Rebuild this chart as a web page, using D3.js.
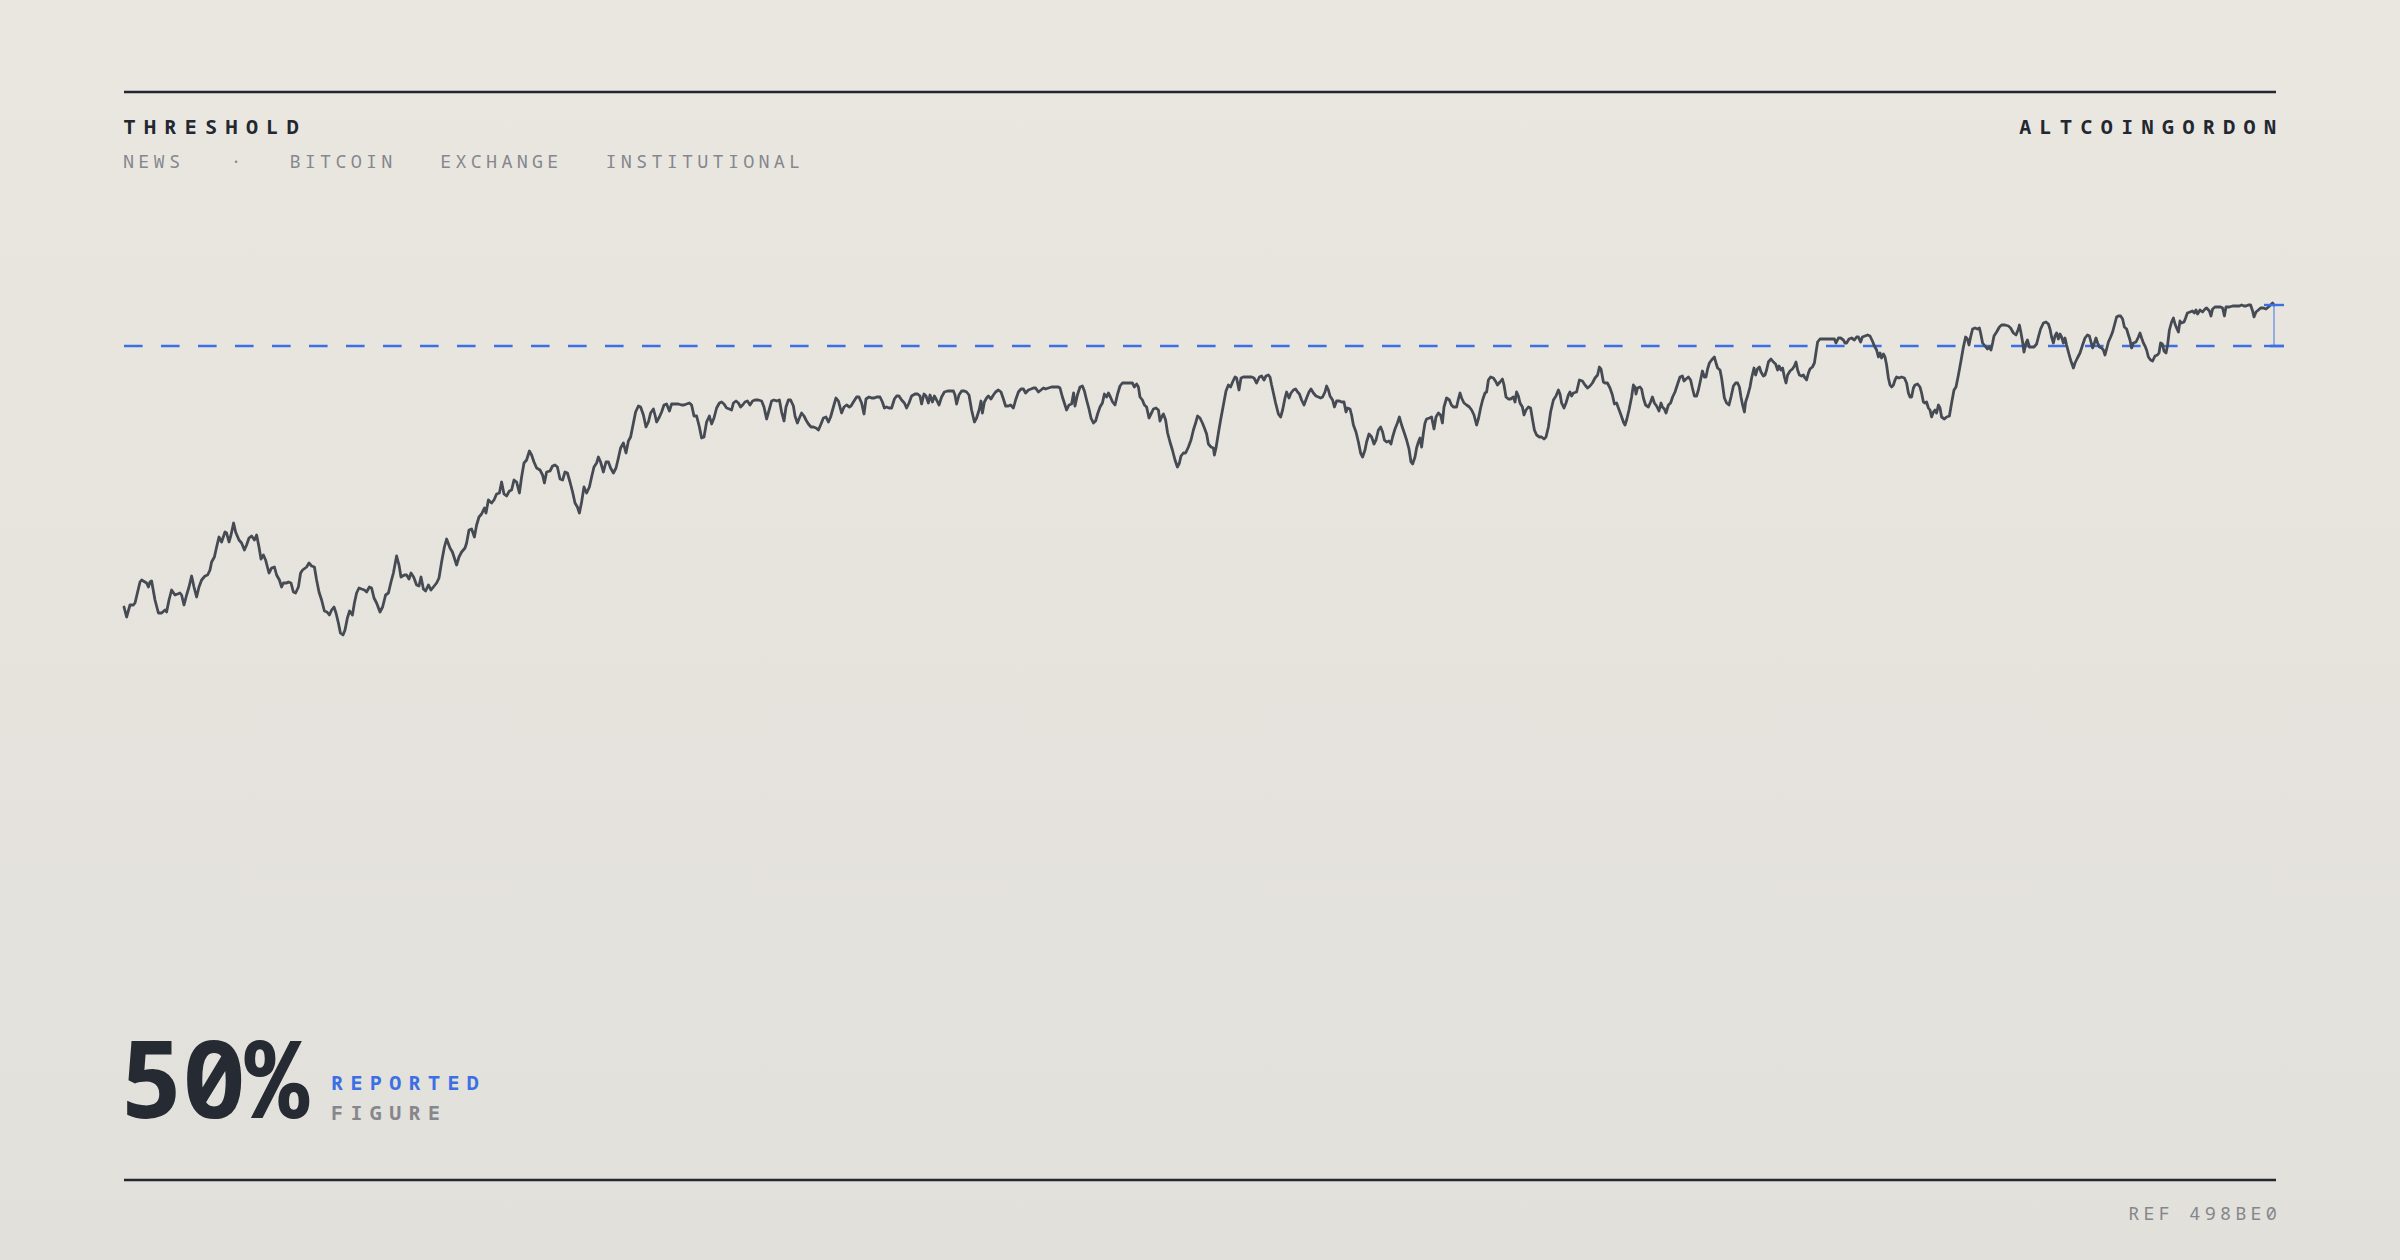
<!DOCTYPE html>
<html>
<head>
<meta charset="utf-8">
<script src="https://cdn.jsdelivr.net/npm/d3@7"></script>
<style>
  html, body { margin: 0; padding: 0; }
  body { width: 2400px; height: 1260px; overflow: hidden; }
  svg { display: block; }
  text { font-family: "Noto Sans Mono", "DejaVu Sans Mono", monospace; }
</style>
</head>
<body>
<svg id="chart" width="2400" height="1260"></svg>
<script>
// ---- DATA ----
const title = "THRESHOLD";
const brand = "ALTCOINGORDON";
const tags = ["NEWS", "·", "BITCOIN", "EXCHANGE", "INSTITUTIONAL"];
const reference = "REF 498BE0";
const headline = "50%";
const headlineLabels = ["REPORTED", "FIGURE"];
const thresholdValue = 50;

const days = [
  0,1.3,3.0,4.7,5.5,8.0,8.8,11.3,12.2,13.0,
  13.8,15.5,17.2,18.8,20.5,21.3,22.5,23.8,25.5,28.0,
  28.8,30.0,31.3,32.5,33.8,35.0,36.3,37.5,38.8,40.5,
  41.8,43.0,43.8,45.2,46.3,47.5,48.8,50.5,51.3,52.5,
  53.5,54.8,55.8,57.5,58.8,60.2,61.3,62.5,63.8,65.2,
  66.3,67.5,68.5,69.7,70.8,72.5,73.8,75.2,76.3,77.7,
  78.8,79.7,81.3,82.2,83.5,84.7,85.8,87.2,88.3,89.3,
  91.3,92.5,93.8,95.2,96.3,97.5,98.8,100.2,101.5,102.7,
  103.8,105.0,106.0,107.2,108.2,109.5,110.5,111.7,112.8,114.2,
  115.2,116.3,117.5,118.8,120.2,121.3,122.7,123.8,125.0,126.3,
  128.0,129.3,130.8,132.2,133.5,134.7,136.3,137.5,138.5,140.2,
  141.3,142.5,143.5,144.8,146.3,147.5,148.5,149.7,150.8,152.2,
  153.5,154.7,156.3,157.5,158.8,160.2,161.3,163.0,164.2,165.5,
  166.3,167.5,168.8,170.5,171.3,172.5,173.8,175.2,176.3,177.5,
  178.8,180.2,
  181.0,182.2,183.8,185.0,186.3,187.7,188.8,190.0,191.3,192.7,
  193.8,195.0,196.3,197.7,198.8,200.0,201.3,202.7,203.8,205.0,
  206.3,208.0,209.3,210.2,211.3,213.0,214.3,215.5,216.7,218.0,
  219.3,220.5,221.7,223.0,224.3,225.5,226.7,227.7,228.8,230.0,
  231.3,232.7,233.8,235.0,236.3,237.2,238.3,239.7,241.0,242.2,
  243.3,244.7,246.0,247.2,248.3,249.7,251.0,252.2,253.3,254.7,
  255.8,257.2,258.3,259.7,261.0,262.2,263.3,264.7,265.5,266.3,
  267.7,268.8,270.0,271.3,272.7,273.8,275.5,277.2,278.8,280.0,
  281.3,282.7,283.8,285.0,286.3,287.7,288.8,290.0,291.3,292.7,
  293.8,295.0,296.3,297.7,298.8,300.0,301.3,302.7,303.8,304.7,
  306.0,307.2,308.3,309.3,310.5,311.7,313.0,314.3,315.5,317.2,
  318.8,320.0,321.3,322.7,323.8,325.0,326.3,327.7,328.8,330.0,
  331.0,332.2,333.3,334.7,335.5,336.7,337.7,338.8,340.0,341.0,
  342.2,343.5,344.7,346.0,347.2,348.3,349.7,351.0,352.2,353.3,
  354.7,356.0,357.2,358.0,358.8,360.0,361.3,362.7,
  363.5,364.7,366.3,367.5,368.8,370.0,371.0,372.5,373.8,375.2,
  376.3,378.0,379.2,380.2,381.3,382.5,383.8,385.2,386.3,387.5,
  388.8,390.2,391.3,392.5,393.8,395.5,396.8,398.0,398.8,400.0,
  401.0,402.2,403.0,404.2,405.2,406.3,407.5,408.8,410.2,411.8,
  413.5,414.7,415.5,416.3,417.5,418.8,420.2,421.3,422.5,423.8,
  425.2,426.3,427.7,428.5,429.2,430.2,431.3,432.2,433.5,434.7,
  435.8,437.2,438.5,439.7,440.8,442.2,443.3,444.7,445.8,447.2,
  448.5,449.7,450.8,452.2,453.5,454.7,455.8,457.2,458.5,459.7,
  460.8,462.2,463.8,465.8,467.2,468.0,469.2,470.5,471.3,472.5,
  473.8,474.8,475.5,476.7,478.0,479.2,480.2,481.3,482.5,483.5,
  484.7,485.8,486.8,488.0,489.2,490.2,491.3,492.2,493.2,494.3,
  495.5,496.8,498.0,499.2,500.5,501.8,503.0,504.2,505.2,506.3,
  507.2,508.0,509.2,510.2,511.3,512.5,513.5,514.7,516.0,517.2,
  518.0,518.8,519.7,520.8,521.8,523.0,524.2,525.5,526.7,527.7,
  528.5,529.7,530.8,532.2,533.5,534.7,535.8,536.8,538.0,539.2,
  540.2,541.3,542.2,543.5,544.7,545.2,
  546.0,547.2,548.3,549.7,551.0,552.2,553.3,554.3,555.5,556.3,
  557.5,558.5,559.7,561.0,562.7,563.8,565.0,566.3,567.7,568.8,
  570.0,571.0,572.2,573.0,573.8,574.7,575.8,577.2,578.3,579.3,
  580.5,581.3,582.5,583.5,584.7,585.8,586.8,587.7,588.8,590.0,
  591.3,592.5,593.5,594.7,596.0,597.2,598.3,599.3,600.5,601.3,
  602.2,603.0,604.3,605.2,606.3,607.7,608.8,610.0,611.0,611.7,
  613.0,613.8,614.7,616.0,617.2,618.3,619.3,620.5,621.3,622.5,
  623.8,625.0,626.0,627.2,628.3,629.3,630.2,631.3,632.5,633.5,
  634.3,635.5,636.7,637.7,638.8,640.0,641.3,642.5,643.5,644.3,
  645.5,646.3,647.2,648.0,648.8,649.7,650.5,651.3,652.7,653.8,
  655.0,656.0,657.2,658.3,659.2,660.0,661.3,662.7,663.7,664.7,
  666.3,667.2,668.0,668.8,670.0,671.3,672.7,673.8,675.0,676.3,
  677.3,678.3,679.3,680.5,681.3,682.2,683.3,684.7,686.0,686.7,
  688.0,689.2,690.0,691.0,692.2,693.3,694.7,695.5,696.3,697.2,
  698.0,699.2,700.0,701.0,702.2,703.3,704.3,705.2,706.3,707.7,
  708.8,710.0,711.0,712.2,713.3,714.7,716.0,717.2,718.0,718.8,
  720.0,721.0,722.2,723.0,723.8,724.7,726.3,727.7,
  729.2,730.5,731.8,733.0,734.2,735.5,736.8,737.7,738.5,739.7,
  740.5,741.7,743.0,744.2,745.2,746.3,747.2,748.5,749.7,750.5,
  751.3,752.5,753.8,754.7,755.5,756.0,756.8,758.0,758.8,759.7,
  760.8,762.2,763.3,764.2,765.2,766.3,767.5,768.5,769.2,770.2,
  771.0,772.2,773.3,774.3,775.5,776.8,778.0,779.2,780.0,781.0,
  782.2,783.3,784.2,785.2,786.3,787.2,788.5,789.2,790.2,791.0,
  791.8,792.7,793.8,795.2,796.0,796.8,798.0,798.8,800.2,801.3,
  802.5,803.5,804.7,805.8,806.8,807.7,808.5,809.3,810.2,810.8,
  811.8,813.0,813.8,815.0,815.8,816.7,817.7,818.5,819.7,820.5,
  821.3,822.2,823.5,824.7,825.8,826.8,827.5,828.5,829.3,830.2,
  831.0,831.8,833.0,834.2,835.2,836.0,836.8,837.7,838.8,839.7,
  840.5,841.3,842.2,843.0,844.2,845.2,845.8,846.8,848.0,849.2,
  850.5,851.8,853.0,854.2,855.2,856.0,857.2,858.3,859.7,860.5,
  861.3,862.5,863.8,865.2,866.3,867.2,868.3,869.2,870.5,871.8,
  873.0,874.2,875.2,876.3,877.2,878.0,878.8,879.7,880.5,881.3,
  882.2,883.0,883.8,884.7,885.5,886.3,887.5,888.8,890.2,891.3,
  892.2,893.0,893.8,894.7,895.5,896.8,898.0,898.8,899.7,900.5,
  901.3,902.2,903.0,903.8,904.7,905.5,906.3,907.2,908.0,908.8,
  910.2,
  911.3,912.7,913.8,915.0,916.0,917.2,918.3,919.7,920.8,921.7,
  922.5,923.3,924.3,925.5,926.7,927.7,928.3,929.3,930.5,931.7,
  932.7,933.5,934.3,935.0,936.3,937.7,938.8,940.5,942.2,943.3,
  944.7,946.0,947.2,947.7,948.5,949.3,950.0,951.0,951.7,952.7,
  953.8,955.0,956.3,957.2,958.3,959.7,961.0,962.2,963.0,963.8,
  964.7,965.5,966.3,967.2,968.0,968.8,969.7,970.5,971.3,972.2,
  973.3,974.7,975.5,976.7,978.0,979.3,980.5,981.7,982.7,983.5,
  984.3,985.2,986.0,986.8,987.7,988.8,989.7,990.5,991.3,992.2,
  993.3,994.3,995.5,996.3,997.2,998.3,999.3,1000.2,1001.3,1002.2,
  1003.0,1003.8,1004.7,1006.0,1007.2,1008.0,1008.8,1009.7,1010.5,1011.3,
  1012.2,1013.3,1014.3,1015.5,1016.7,1017.5,1018.3,1019.2,1020.0,1021.0,
  1021.8,1022.7,1023.8,1024.7,1025.5,1026.3,1027.2,1028.0,1028.8,1030.0,
  1030.8,1031.7,1033.0,1034.2,1035.2,1036.0,1036.8,1038.0,1039.3,1040.5,
  1041.3,1042.7,1043.5,1044.3,1045.5,1047.2,1048.3,1049.3,1050.2,1051.0,
  1052.7,1054.3,1056.0,1057.7,1058.8,1060.0,1061.0,1062.2,1063.3,1064.3,
  1065.0,1066.0,1067.2,1068.3,1069.7,1071.0,1072.2,1073.3,1074.3,1075.0
];

const values = [
  23.9,22.9,24.1,24.1,24.3,26.4,26.6,26.3,25.9,26.4,
  26.5,24.6,23.3,23.3,23.6,23.4,24.6,25.6,25.1,25.3,
  25.1,24.1,25.1,25.9,27.0,25.9,24.9,25.9,26.6,27.0,
  27.1,27.6,28.4,28.9,29.9,30.9,30.4,31.4,31.3,30.4,
  31.1,32.3,31.4,30.6,30.3,29.6,30.1,30.8,31.0,30.6,
  31.1,29.9,28.7,29.1,28.6,27.3,27.8,27.9,27.1,26.6,
  25.9,26.3,26.3,26.4,26.3,25.4,25.3,25.9,27.3,27.6,
  27.9,28.3,28.0,27.9,26.6,25.4,24.6,23.5,23.4,23.1,
  23.6,23.9,23.3,22.3,21.3,21.1,21.6,22.8,23.5,23.1,
  24.3,25.3,25.8,25.7,25.6,25.4,25.9,25.8,24.8,24.3,
  23.4,23.9,25.1,25.3,26.4,27.3,29.0,28.1,26.9,27.1,
  27.1,26.7,27.3,26.9,26.1,26.0,26.9,25.7,25.5,26.1,
  25.6,25.9,26.3,26.8,28.4,29.9,30.7,29.8,29.4,28.6,
  28.1,28.9,29.4,29.8,30.3,31.6,31.7,30.9,32.1,32.9,
  33.2,33.8,
  33.3,34.6,34.3,34.6,35.2,35.3,36.4,35.2,35.0,35.5,
  35.6,36.6,36.4,35.3,36.9,38.3,38.6,39.5,39.1,38.4,
  37.8,37.6,37.1,36.3,37.4,37.5,38.0,38.1,37.9,36.7,
  36.6,37.4,37.3,36.4,35.4,34.3,33.9,33.3,34.4,35.9,
  35.3,35.9,36.9,37.9,38.3,38.9,38.4,37.4,38.4,38.4,
  37.8,37.3,37.8,38.8,39.8,40.3,39.3,40.5,40.9,42.3,
  43.4,44.0,43.9,43.1,41.9,42.4,43.3,43.7,43.1,42.4,
  42.9,43.4,44.1,44.2,43.5,44.2,44.2,44.2,44.1,44.1,
  44.2,44.3,44.1,43.0,43.0,41.9,40.8,40.9,42.4,43.0,
  42.2,42.8,43.8,44.3,44.4,44.2,43.8,43.7,43.6,44.3,
  44.5,44.3,43.9,44.1,44.4,44.5,44.1,44.5,44.6,44.6,
  44.5,43.9,42.7,43.7,44.5,44.6,44.5,44.6,43.4,42.5,
  43.9,44.6,44.6,44.0,43.0,42.3,42.8,43.3,43.0,42.6,
  42.2,41.9,41.9,41.8,41.6,42.1,42.8,42.9,42.4,42.9,
  43.9,44.8,44.5,43.9,43.3,43.9,44.1,43.9,
  44.0,44.4,44.9,44.9,44.3,43.2,44.7,44.9,44.8,44.8,
  44.9,44.9,44.4,43.8,43.9,43.8,43.8,44.7,45.0,45.0,
  44.6,44.3,43.8,44.3,45.0,45.2,45.2,45.0,44.2,45.2,
  45.0,44.3,45.1,44.4,45.0,44.6,44.1,44.9,45.4,45.5,
  45.5,45.5,45.1,44.2,45.1,45.5,45.5,45.4,45.1,43.6,
  42.4,42.8,43.7,44.5,43.3,44.4,44.8,45.0,44.7,45.1,
  45.4,45.6,45.4,44.7,44.0,44.0,44.1,43.8,44.6,45.4,
  45.7,45.7,45.3,45.6,45.7,45.8,45.8,45.4,45.6,45.8,
  45.7,45.8,45.9,45.9,45.9,45.8,44.9,44.1,43.6,44.1,
  44.2,45.3,44.0,45.1,45.9,46.0,45.5,44.6,43.7,42.8,
  42.3,42.5,43.2,43.9,44.3,45.2,44.9,45.3,44.9,44.4,
  44.1,45.2,46.0,46.3,46.3,46.3,46.3,46.3,45.9,46.2,
  45.9,44.9,44.6,44.1,43.9,42.8,43.2,43.7,43.8,43.6,
  42.5,42.9,43.2,42.6,41.3,40.4,39.6,38.6,37.9,38.3,
  39.0,39.3,39.3,39.9,40.6,41.6,42.3,43.0,42.8,42.3,
  41.8,41.2,40.2,39.9,39.8,39.1,
  39.8,41.3,42.6,44.1,45.5,46.1,45.9,46.4,46.9,46.8,
  45.6,46.8,46.9,46.9,46.9,46.9,46.8,46.3,46.9,47.0,
  46.6,47.0,47.1,46.9,46.1,45.3,44.3,43.2,42.9,43.6,
  44.8,45.4,44.8,45.3,45.6,45.7,45.4,45.2,44.6,44.1,
  44.8,45.4,45.7,45.3,45.0,44.9,44.8,44.9,45.4,46.0,
  45.6,45.0,44.6,43.9,44.5,44.5,44.4,44.4,43.4,43.8,
  43.7,43.1,42.1,41.4,40.4,39.3,38.9,39.6,40.4,41.2,
  40.9,40.2,40.6,41.6,41.9,41.4,40.6,40.4,40.5,40.2,
  40.9,41.7,42.3,42.9,42.1,41.4,40.6,39.7,38.4,38.2,
  38.9,39.8,40.4,40.8,39.9,41.3,42.3,42.7,42.8,42.9,
  41.7,42.9,43.3,43.1,42.3,43.9,44.8,44.6,44.1,43.9,
  43.9,44.7,45.3,44.8,44.3,44.1,43.9,43.6,43.1,42.1,
  42.8,43.8,44.6,45.3,45.4,46.6,46.9,46.8,46.4,46.1,
  46.4,46.7,46.1,44.9,44.7,44.7,44.9,44.4,45.4,45.0,
  44.3,43.9,43.1,43.6,43.9,43.8,42.6,41.6,41.1,40.9,
  40.9,40.7,40.9,41.9,43.4,44.6,45.0,45.6,45.2,44.3,
  43.8,44.3,45.1,45.4,45.0,45.3,45.4,46.6,
  46.5,46.1,45.8,46.0,46.3,46.8,47.1,47.9,47.7,46.4,
  46.3,46.3,45.8,45.1,44.2,44.3,43.8,43.1,42.4,42.1,
  42.6,43.6,44.9,46.1,45.9,45.2,45.8,45.9,45.7,44.8,
  44.1,43.9,44.4,44.9,44.3,44.0,43.5,44.3,43.9,43.7,
  43.3,44.1,44.3,44.9,45.4,46.2,46.9,47.0,46.5,46.7,
  46.9,46.6,45.8,45.0,45.0,45.6,46.8,47.5,46.9,46.9,
  47.7,48.3,48.6,48.9,48.3,47.8,47.6,46.8,44.8,44.3,
  44.1,44.9,46.0,46.3,46.3,45.9,44.9,44.1,43.4,44.4,
  45.0,45.9,46.8,47.8,47.1,47.7,47.9,47.4,47.0,47.1,
  47.6,48.4,48.7,48.4,48.2,47.6,48.0,47.6,47.8,46.9,
  46.3,47.1,47.5,47.7,48.0,48.4,47.6,47.1,47.0,47.1,
  46.8,46.6,47.3,47.7,47.9,48.3,49.1,50.4,50.7,50.7,
  50.7,50.7,50.7,50.7,50.7,50.3,50.8,50.8,50.6,50.3,
  50.3,50.7,50.8,50.6,50.9,50.9,50.4,50.9,51.0,51.1,
  51.0,50.5,50.0,49.6,48.9,49.3,48.8,49.2,48.9,48.1,
  46.8,46.1,45.9,46.1,46.6,46.9,46.8,46.9,46.8,46.3,
  45.3,44.9,44.9,45.8,46.1,46.2,45.9,45.3,44.4,44.3,
  44.4,43.8,43.6,42.9,43.4,43.6,43.3,44.1,43.8,42.9,
  42.7,
  42.9,43.0,44.3,45.6,45.9,47.1,48.3,49.9,50.9,50.7,
  50.1,50.9,51.7,51.8,51.7,51.8,51.3,50.3,50.0,49.7,
  49.9,49.6,50.3,51.0,51.4,51.9,52.1,52.1,52.0,51.8,
  51.3,51.1,51.7,52.1,51.3,50.4,49.4,50.3,50.6,49.9,
  49.9,49.9,50.2,50.9,51.7,52.3,52.4,52.2,51.7,50.9,
  50.3,51.0,51.3,50.7,51.2,50.9,50.3,50.8,50.1,49.4,
  48.6,47.8,48.3,48.8,49.3,50.1,50.8,51.1,51.0,50.4,
  49.8,50.3,50.8,50.3,49.9,49.8,49.6,49.1,49.7,50.4,
  50.9,51.4,52.3,52.9,53.0,53.0,52.7,51.9,51.7,51.1,
  50.6,49.8,50.3,50.4,50.9,51.3,50.8,50.3,50.0,49.6,
  48.9,48.6,48.5,49.0,49.1,49.3,50.3,50.2,49.5,49.3,
  50.1,51.6,52.4,52.8,52.2,51.8,51.4,52.5,52.3,52.4,
  52.8,53.3,53.4,53.5,53.3,53.6,53.2,53.6,53.4,53.7,
  53.8,53.5,53.0,53.7,53.9,53.9,53.9,53.8,53.0,53.9,
  53.9,54.0,54.0,54.0,54.1,54.0,54.0,54.1,54.1,53.5,
  52.9,53.4,53.6,53.8,53.8,53.7,53.9,54.1,54.3,54.1
];

// ---- LAYOUT ----
const W = 2400, H = 1260;
const left = 124, right = 2276;
const ink = "#23272f", muted = "#85878d", blue = "#3b6fe4", lineInk = "#454a53";

const svg = d3.select("#chart");
const defs = svg.append("defs");
const grad = defs.append("linearGradient").attr("id", "bg").attr("x1", 0).attr("y1", 0).attr("x2", 0).attr("y2", 1);
grad.append("stop").attr("offset", "0%").attr("stop-color", "#eae7e1");
grad.append("stop").attr("offset", "100%").attr("stop-color", "#e2e0da");
svg.append("rect").attr("width", W).attr("height", H).attr("fill", "url(#bg)");

const n = Math.min(days.length, values.length);
const data = d3.range(n).map(i => ({ day: days[i], value: values[i] }));

const x = d3.scaleLinear().domain([0, d3.max(days)]).range([left, 2274]);
const y = d3.scaleLinear().domain([20, 60]).range([646, 246]);

// rules
svg.append("line").attr("x1", left).attr("x2", right).attr("y1", 92).attr("y2", 92)
  .attr("stroke", ink).attr("stroke-width", 2.4);
svg.append("line").attr("x1", left).attr("x2", right).attr("y1", 1180).attr("y2", 1180)
  .attr("stroke", ink).attr("stroke-width", 2.4);

// header
svg.append("text").attr("x", left - 0.5).attr("y", 134).text(title)
  .attr("font-size", 20).attr("font-weight", 700).attr("letter-spacing", 8.4).attr("fill", ink);
svg.append("text").attr("x", right + 8.4).attr("y", 134).attr("text-anchor", "end").text(brand)
  .attr("font-size", 20).attr("font-weight", 700).attr("letter-spacing", 8.4).attr("fill", ink);

const tagX = [123, 230.5, 289.5, 440.2, 605.5];
const tagText = svg.append("text").attr("y", 167.5).attr("font-size", 18.5).attr("letter-spacing", 4.2).attr("fill", muted);
tagText.selectAll("tspan").data(tags).join("tspan").attr("x", (d, i) => tagX[i]).text(d => d);

// threshold dashed line
const last = data[data.length - 1];
svg.append("line").attr("x1", x.range()[0]).attr("x2", x(last.day) + 10)
  .attr("y1", y(thresholdValue)).attr("y2", y(thresholdValue))
  .attr("stroke", blue).attr("stroke-width", 2.4).attr("stroke-dasharray", "18.6 18.4");

// series line
const line = d3.line().x(d => x(d.day)).y(d => y(d.value)).curve(d3.curveLinear);
svg.append("path").datum(data).attr("d", line).attr("fill", "none")
  .attr("stroke", lineInk).attr("stroke-width", 2.8).attr("stroke-linejoin", "round").attr("stroke-linecap", "round");

// gap marker at last point
const lx = x(last.day);
svg.append("line").attr("x1", lx).attr("x2", lx).attr("y1", y(last.value)).attr("y2", y(thresholdValue))
  .attr("stroke", blue).attr("stroke-opacity", 0.6).attr("stroke-width", 1.6);
svg.append("line").attr("x1", lx - 10).attr("x2", lx + 10).attr("y1", y(last.value)).attr("y2", y(last.value))
  .attr("stroke", blue).attr("stroke-width", 2.4);
svg.append("line").attr("x1", lx - 10).attr("x2", lx + 10).attr("y1", y(thresholdValue)).attr("y2", y(thresholdValue))
  .attr("stroke", blue).attr("stroke-width", 2.4);

// headline figure
svg.append("text").attr("x", left - 5).attr("y", 1118).text(headline)
  .attr("font-size", 108).attr("font-weight", 700).attr("letter-spacing", -2).attr("fill", "#262a33");
svg.append("text").attr("x", 331).attr("y", 1090).text(headlineLabels[0])
  .attr("font-size", 20).attr("font-weight", 700).attr("letter-spacing", 7.4).attr("fill", blue);
svg.append("text").attr("x", 331).attr("y", 1120).text(headlineLabels[1])
  .attr("font-size", 20).attr("font-weight", 700).attr("letter-spacing", 7.4).attr("fill", muted);

// reference
svg.append("text").attr("x", 2277 + 4.2).attr("y", 1220).attr("text-anchor", "end").text(reference)
  .attr("font-size", 18.5).attr("letter-spacing", 4.2).attr("fill", muted);
</script>
</body>
</html>
